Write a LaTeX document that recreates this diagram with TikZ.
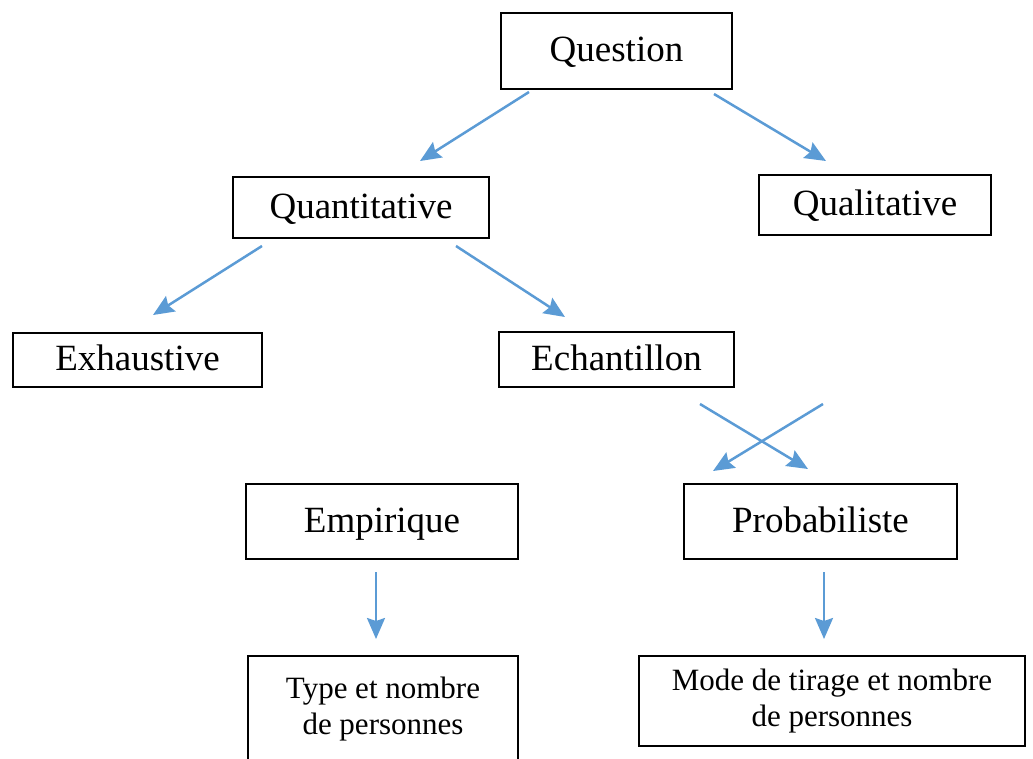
\documentclass[tikz,border=0pt]{standalone}
\usepackage{fontspec}
\setmainfont{Liberation Serif}
\usetikzlibrary{arrows.meta, calc}
\definecolor{arrowblue}{RGB}{91,155,213}
\tikzset{
	box/.style={draw, line width=2pt, inner sep=0pt, text height=27pt, text depth=6pt,
		font=\fontsize{37}{44}\selectfont},
	smallbox/.style={draw, line width=2pt, inner sep=0pt, align=center, font=\fontsize{31}{36}\selectfont},
	arr/.style={-{Stealth[length=21pt,width=18pt,inset=3pt]}, draw=arrowblue, line width=2.5pt}
}
\begin{document}
\begin{tikzpicture}[x=1pt, y=-1pt]
	\useasboundingbox (0,0) rectangle (1033,758);

	\node[box, minimum width=231, minimum height=76] (quest) at (616.5,51)  {Question};
	\node[box, minimum width=256, minimum height=61] (quant) at (361,207.5) {Quantitative};
	\node[box, minimum width=232, minimum height=60] (qual)  at (875,205)   {Qualitative};
	\node[box, minimum width=249, minimum height=54] (exh)   at (137.5,360) {Exhaustive};
	\node[box, minimum width=235, minimum height=55] (ech)   at (616.5,359.5) {Echantillon};
	\node[box, minimum width=272, minimum height=75] (emp)   at (382,521.5) {Empirique};
	\node[box, minimum width=273, minimum height=75] (prob)  at (820.5,521.5) {Probabiliste};
	\node[smallbox, minimum width=270, minimum height=106] (type) at (383,709) {Type et nombre\\de personnes};
	\node[smallbox, minimum width=386, minimum height=90]  (mode) at (832,701) {Mode de tirage et nombre\\de personnes};

	% arrows
	\draw[arr] ($(quest.south west)+(29,2)$)  -- ($(quant.north)+(59,-15)$);
	\draw[arr] ($(quest.south east)+(-19,4)$) -- ($(qual.north)+(-49,-13)$);
	\draw[arr] ($(quant.south west)+(30,7)$)  -- ($(exh.north)+(15.5,-17)$);
	\draw[arr] ($(quant.south east)+(-34,7)$) -- ($(ech.north)+(-51.5,-14)$);
	\draw[arr] ($(ech.south east)+(-35,16)$)  -- ($(prob.north)+(-12.5,-14)$);
	\draw[arr] ($(ech.south east)+(88,16)$)   -- ($(prob.north)+(-107.5,-12)$);
	\draw[arr] ($(emp.south)+(-6,12)$)        -- ($(type.north)+(-7,-16)$);
	\draw[arr] ($(prob.south)+(3.5,12)$)      -- ($(mode.north)+(-8,-16)$);
\end{tikzpicture}
\end{document}
